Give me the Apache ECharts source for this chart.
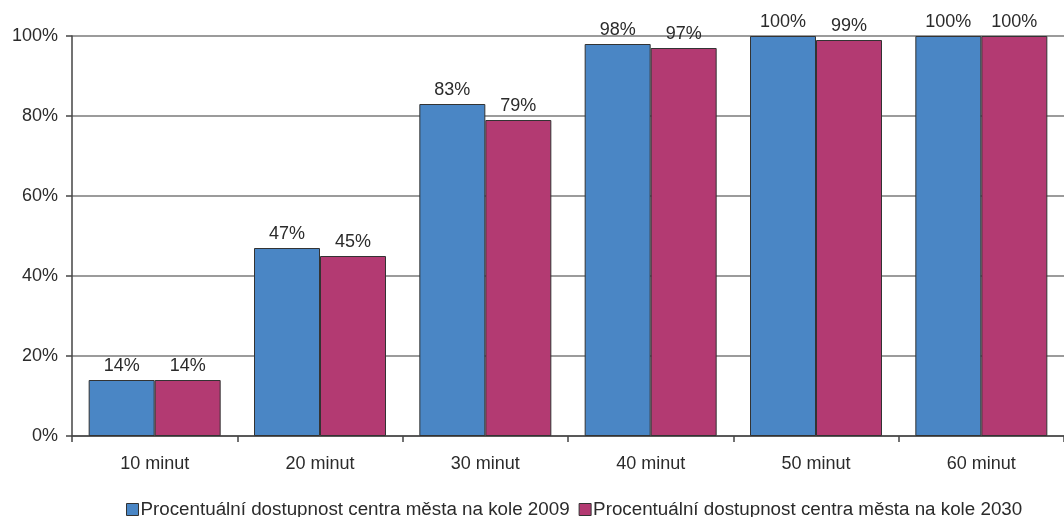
<!DOCTYPE html>
<html>
<head>
<meta charset="utf-8">
<script src="https://cdn.jsdelivr.net/npm/echarts@6/dist/echarts.min.js"></script>
<style>
  html, body { margin: 0; padding: 0; background: #fff; }
  #chart { width: 1064px; height: 517px; }
</style>
</head>
<body>
<div id="chart"></div>
<script>
// Travel-time categories
const categories = ['10 minut', '20 minut', '30 minut', '40 minut', '50 minut', '60 minut'];
// Share of city-centre reachable by bike (%)
const values2009 = [14, 47, 83, 98, 100, 100];
const values2030 = [14, 45, 79, 97, 99, 100];
const seriesNames = [
  'Procentuální dostupnost centra města na kole 2009',
  'Procentuální dostupnost centra města na kole 2030'
];
const yTicks = { min: 0, max: 100, interval: 20 };

const font = 'Liberation Sans, Arial, sans-serif';
const textColor = '#2b2b2b';
const colors = ['#4a86c5', '#b33a72'];

const chart = echarts.init(document.getElementById('chart'), null, { renderer: 'canvas' });

function barSeries(name, data, color) {
  return {
    name: name,
    type: 'bar',
    data: data,
    barWidth: 66,
    barGap: '0%',
    itemStyle: { color: color, borderColor: '#333', borderWidth: 1 },
    label: {
      show: true,
      position: 'top',
      distance: 5,
      formatter: p => p.value + '%',
      fontFamily: font,
      fontSize: 18,
      color: textColor
    }
  };
}

chart.setOption({
  animation: false,
  backgroundColor: '#fff',
  grid: { left: 72, right: 0, top: 36, bottom: 81, containLabel: false },
  legend: {
    left: 121,
    top: 495,
    itemWidth: 12,
    itemHeight: 12,
    itemGap: 9,
    icon: 'rect',
    textStyle: { fontFamily: font, fontSize: 18.8, color: textColor, padding: [0, 0, 0, -3] },
    itemStyle: { borderColor: '#333', borderWidth: 1 },
    data: seriesNames
  },
  xAxis: {
    type: 'category',
    data: categories,
    axisLine: { show: true, lineStyle: { color: '#444', width: 1.5 } },
    axisTick: { show: true, length: 6, alignWithLabel: false, lineStyle: { color: '#444', width: 1.5 } },
    axisLabel: { margin: 19, fontFamily: font, fontSize: 18, color: textColor }
  },
  yAxis: {
    type: 'value',
    min: yTicks.min,
    max: yTicks.max,
    interval: yTicks.interval,
    axisLine: { show: true, lineStyle: { color: '#444', width: 1.5 } },
    axisTick: { show: true, length: 6, lineStyle: { color: '#444', width: 1.5 } },
    axisLabel: { margin: 14, fontFamily: font, fontSize: 18, color: textColor, formatter: v => v + '%' },
    splitLine: { show: true, lineStyle: { color: '#7a7a7a', width: 1.5 } }
  },
  series: [
    barSeries(seriesNames[0], values2009, colors[0]),
    barSeries(seriesNames[1], values2030, colors[1])
  ]
});
</script>
</body>
</html>
